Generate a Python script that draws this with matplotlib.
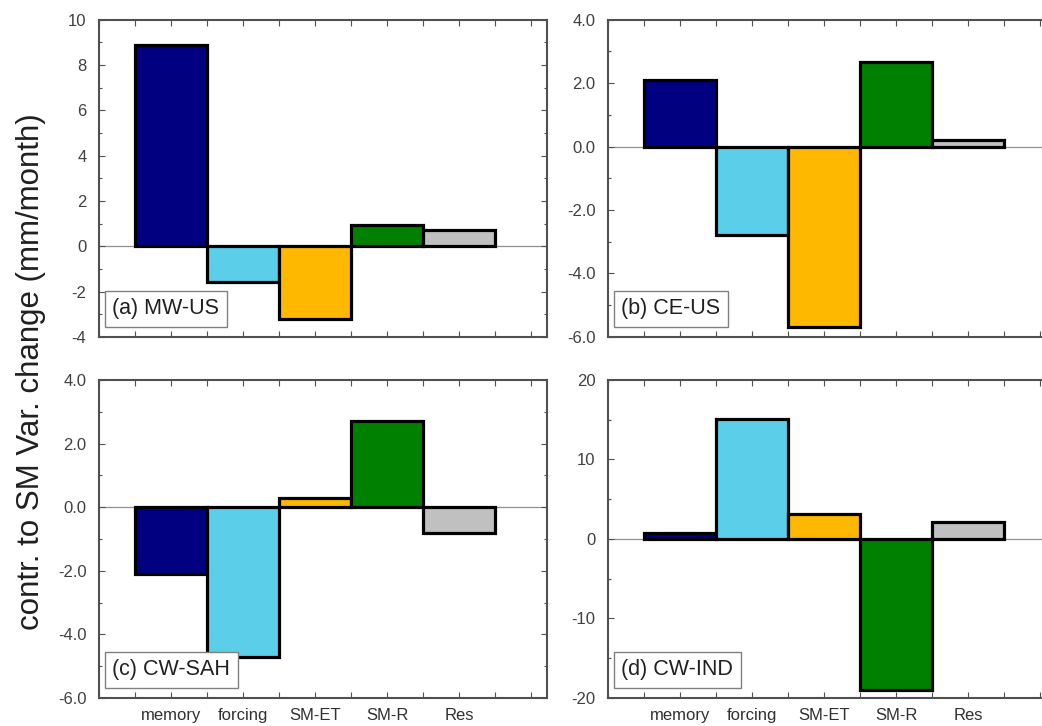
import numpy as np
import matplotlib
matplotlib.use("Agg")
import matplotlib.pyplot as plt
from matplotlib.ticker import MultipleLocator, FormatStrFormatter

plt.rcParams['font.family'] = ['Liberation Sans', 'DejaVu Sans']

# categories and bar colours
categories = ['memory', 'forcing', 'SM-ET', 'SM-R', 'Res']
bar_colors = ['#000080', '#5bcfea', '#ffb800', '#008000', '#c0c0c0']

# contributions per region (mm/month)
mw_us = [8.9, -1.6, -3.2, 0.95, 0.7]
ce_us = [2.1, -2.8, -5.7, 2.65, 0.2]
cw_sah = [-2.1, -4.7, 0.3, 2.7, -0.8]
cw_ind = [0.7, 15.1, 3.1, -19.0, 2.1]

panel_labels = ['(a) MW-US', '(b) CE-US', '(c) CW-SAH', '(d) CW-IND']
panel_data = [mw_us, ce_us, cw_sah, cw_ind]
ylims = [(-4, 10), (-6, 4), (-6, 4), (-20, 20)]
ysteps = [2, 2, 2, 10]
yfmts = ['%d', '%.1f', '%.1f', '%d']

fig = plt.figure(figsize=(10.42, 7.26), dpi=100)
# axes positions (left, bottom, width, height) - right column runs off the page
positions = [
    [0.095, 0.536, 0.430, 0.437],
    [0.5835, 0.536, 0.430, 0.437],
    [0.095, 0.0386, 0.430, 0.438],
    [0.5835, 0.0386, 0.430, 0.438],
]

x = np.arange(1, len(categories) + 1)
spine_col = '#505050'

for i in range(4):
    ax = fig.add_axes(positions[i])
    ax.axhline(0, color='#909090', lw=0.9, zorder=1)
    ax.bar(x, panel_data[i], width=1.0, color=bar_colors, edgecolor='black',
           linewidth=2.3, zorder=2)
    ax.set_xlim(0, 6.22)
    ax.set_ylim(*ylims[i])

    # ticks on every side, pointing in
    ax.xaxis.set_major_locator(MultipleLocator(0.5))
    ax.yaxis.set_major_locator(MultipleLocator(ysteps[i]))
    ax.yaxis.set_minor_locator(MultipleLocator(ysteps[i] / 2))
    ax.yaxis.set_major_formatter(FormatStrFormatter(yfmts[i]))
    ax.tick_params(axis='both', which='both', direction='in', top=True, right=True,
                   color=spine_col, width=0.8)
    ax.tick_params(axis='both', which='major', length=4)
    ax.tick_params(axis='both', which='minor', length=2)
    ax.tick_params(axis='y', labelsize=12, labelcolor='#404040', pad=9)
    ax.tick_params(axis='x', labelbottom=False)
    for s in ax.spines.values():
        s.set_color(spine_col)
        s.set_linewidth(1.5)

    # region label in a box at lower left
    ax.text(0.03, 0.055, panel_labels[i], transform=ax.transAxes, fontsize=15.5,
            color='#202020', ha='left', va='bottom',
            bbox=dict(boxstyle='square,pad=0.35', fc='white', ec='#808080', lw=1.0))

    # category names under the bottom row
    if i >= 2:
        for xi, name in zip(x, categories):
            ax.text(xi, -0.03, name, transform=ax.get_xaxis_transform(),
                    ha='center', va='top', fontsize=12, color='#303030')

fig.text(0.03, 0.488, 'contr. to SM Var. change (mm/month)', rotation=90,
         ha='center', va='center', fontsize=22.5, color='#202020')

fig.savefig('out.png', dpi=100)
